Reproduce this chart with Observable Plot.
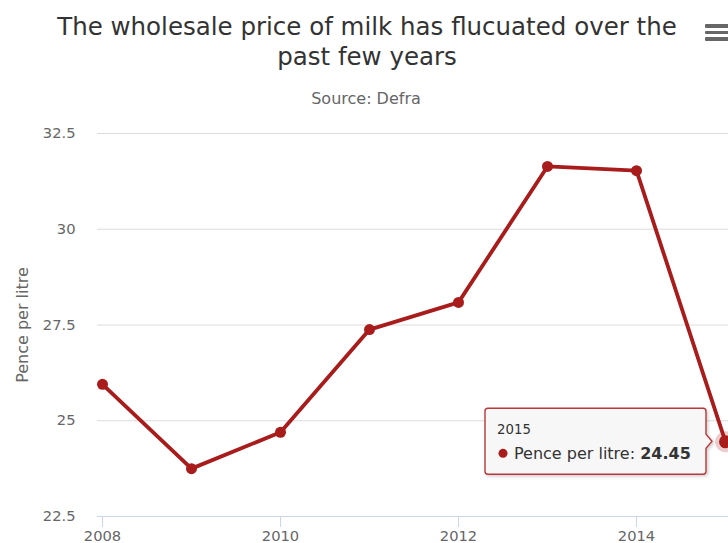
<!DOCTYPE html>
<html>
<head>
<meta charset="utf-8">
<script src="https://cdn.jsdelivr.net/npm/d3@7"></script>
<script src="https://cdn.jsdelivr.net/npm/@observablehq/plot@0.6"></script>
<style>
  body { margin: 0; background: #fff; font-family: "DejaVu Sans", sans-serif; }
  #wrap { position: relative; width: 728px; height: 543px; overflow: hidden; background: #fff; }
  #header { position: relative; height: 110px; }
  #title { position: absolute; left: 6px; top: 12px; width: 722px; text-align: center; font-size: 24.5px; line-height: 30px; color: #333; }
  #subtitle { position: absolute; left: 4px; top: 89px; width: 724px; text-align: center; font-size: 16px; line-height: 20px; color: #666; }
  #menu { position: absolute; left: 705px; top: 24px; width: 30px; }
  #menu div { height: 3.5px; background: #666; margin-bottom: 3.2px; border-radius: 1px; }
  #chart svg { display: block; }
</style>
</head>
<body>
<div id="wrap">
  <div id="header">
    <div id="title">The wholesale price of milk has flucuated over the<br>past few years</div>
    <div id="subtitle">Source: Defra</div>
    <div id="menu"><div></div><div></div><div></div></div>
  </div>
  <div id="chart"></div>
</div>
<script>
const years = [2008, 2009, 2010, 2011, 2012, 2013, 2014, 2015];
const prices = [25.95, 23.75, 24.7, 27.38, 28.09, 31.64, 31.53, 24.45];
const yTicks = [22.5, 25, 27.5, 30, 32.5];
const xTicks = [2008, 2010, 2012, 2014];
const seriesName = "Pence per litre";
const lineColor = "#a81c1c";

const data = years.map((year, i) => ({year, price: prices[i]}));
const hovered = [data[data.length - 1]];

const chart = Plot.plot({
  width: 728,
  height: 433,
  marginLeft: 97,
  marginRight: 0,
  marginTop: 23,
  marginBottom: 27,
  style: { fontFamily: "'DejaVu Sans', sans-serif", fontSize: "14.7px", background: "white", overflow: "visible" },
  x: { domain: [2008, 2015], insetLeft: 5, insetRight: 3 },
  y: { domain: [22.5, 32.5] },
  marks: [
    Plot.gridY(yTicks, { stroke: "#dcdcdc", strokeOpacity: 1, strokeWidth: 1 }),
    Plot.ruleY([22.5], { stroke: "#ccd6eb", strokeWidth: 1 }),
    Plot.axisY(yTicks, { tickSize: 0, tickPadding: 22, fill: "#666", fontSize: 14.7, tickFormat: d => String(d), label: null }),
    Plot.axisX(xTicks, { tickSize: 11, tickPadding: 3, stroke: "#ccd6eb", strokeOpacity: 1, fill: "#666", fontSize: 14.7, tickFormat: d => String(d), label: null }),
    Plot.text([seriesName], { frameAnchor: "left", dx: -75, rotate: -90, textAnchor: "middle", fill: "#666", fontSize: 16 }),
    Plot.line(data, { x: "year", y: "price", stroke: lineColor, strokeWidth: 3.8, strokeLinejoin: "round" }),
    Plot.dot(data, { x: "year", y: "price", r: 5.5, fill: lineColor }),
    Plot.dot(hovered, { x: "year", y: "price", r: 10.5, fill: lineColor, fillOpacity: 0.22 }),
    Plot.dot(hovered, { x: "year", y: "price", r: 6.5, fill: lineColor })
  ]
});

document.getElementById("chart").appendChild(chart);

// Tooltip anchored to the hovered point via the chart's scales
(function () {
  const svg = d3.select(chart);
  const h = hovered[0];
  const px = chart.scale("x").apply(h.year);
  const py = chart.scale("y").apply(h.price);
  const bR = px - 19, bL = bR - 221, bT = py - 33, bB = py + 33, r = 3;
  const path = `M${bL + r},${bT} L${bR - r},${bT} Q${bR},${bT} ${bR},${bT + r}
    L${bR},${py - 7} L${px - 13},${py} L${bR},${py + 7}
    L${bR},${bB - r} Q${bR},${bB} ${bR - r},${bB}
    L${bL + r},${bB} Q${bL},${bB} ${bL},${bB - r}
    L${bL},${bT + r} Q${bL},${bT} ${bL + r},${bT} Z`;
  const defs = svg.append("defs");
  const f = defs.append("filter").attr("id", "shadow").attr("x", "-10%").attr("y", "-10%").attr("width", "130%").attr("height", "140%");
  f.append("feDropShadow").attr("dx", 1.5).attr("dy", 1.5).attr("stdDeviation", 1.5).attr("flood-color", "#000").attr("flood-opacity", 0.2);
  const g = svg.append("g").attr("text-anchor", "start");
  g.append("path").attr("d", path).attr("fill", "rgba(248,248,248,0.92)").attr("stroke", "#b8383a").attr("stroke-width", 1.4).attr("filter", "url(#shadow)");
  g.append("text").attr("text-anchor", "start").attr("x", bL + 12).attr("y", bT + 26).attr("font-size", 13.3).attr("fill", "#333").text(String(h.year));
  g.append("circle").attr("cx", bL + 18).attr("cy", bT + 45).attr("r", 4.5).attr("fill", lineColor);
  const t = g.append("text").attr("text-anchor", "start").attr("x", bL + 29).attr("y", bT + 51).attr("font-size", 16).attr("fill", "#333");
  t.append("tspan").text(seriesName + ": ");
  t.append("tspan").attr("font-weight", "bold").text(String(h.price));
})();
</script>
</body>
</html>
